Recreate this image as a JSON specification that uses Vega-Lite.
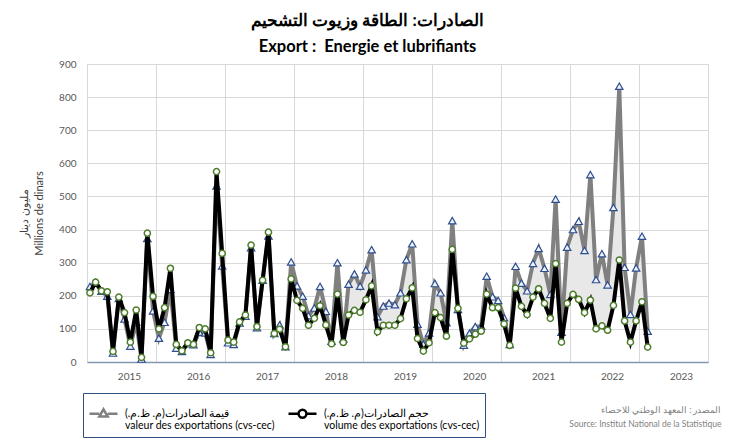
{
  "$schema": "https://vega.github.io/schema/vega-lite/v6.json",
  "width": 621,
  "height": 298,
  "autosize": {"type": "none"},
  "padding": {"left": 87, "top": 64, "right": 27, "bottom": 77},
  "background": "white",
  "config": {
    "font": "Lato",
    "view": {"stroke": "#d9d9d9", "strokeWidth": 1}
  },
  "title": {
    "text": ["الصادرات: الطاقة وزيوت التشحيم", "Export :\u00a0 Energie et lubrifiants"],
    "anchor": "middle",
    "dx": -30,
    "fontSize": 16.5,
    "lineHeight": 26,
    "offset": 4,
    "font": "Lato",
    "fontWeight": "bold",
    "color": "#000000"
  },
  "data": {
    "values": [
      {"date": "2014-06-01T00:00", "valeur": 228, "volume": 209},
      {"date": "2014-07-01T00:00", "valeur": 238, "volume": 241},
      {"date": "2014-08-01T00:00", "valeur": 214, "volume": 215},
      {"date": "2014-09-01T00:00", "valeur": 199, "volume": 212},
      {"date": "2014-10-01T00:00", "valeur": 27, "volume": 32},
      {"date": "2014-11-01T00:00", "valeur": 192, "volume": 196},
      {"date": "2014-12-01T00:00", "valeur": 130, "volume": 149},
      {"date": "2015-01-01T00:00", "valeur": 48, "volume": 60},
      {"date": "2015-02-01T00:00", "valeur": 120, "volume": 157},
      {"date": "2015-03-01T00:00", "valeur": 9, "volume": 14},
      {"date": "2015-04-01T00:00", "valeur": 373, "volume": 389},
      {"date": "2015-05-01T00:00", "valeur": 154, "volume": 198},
      {"date": "2015-06-01T00:00", "valeur": 72, "volume": 100},
      {"date": "2015-07-01T00:00", "valeur": 120, "volume": 164},
      {"date": "2015-08-01T00:00", "valeur": 219, "volume": 283},
      {"date": "2015-09-01T00:00", "valeur": 42, "volume": 53},
      {"date": "2015-10-01T00:00", "valeur": 32, "volume": 34},
      {"date": "2015-11-01T00:00", "valeur": 55, "volume": 58},
      {"date": "2015-12-01T00:00", "valeur": 52, "volume": 53},
      {"date": "2016-01-01T00:00", "valeur": 90, "volume": 104},
      {"date": "2016-02-01T00:00", "valeur": 88, "volume": 100},
      {"date": "2016-03-01T00:00", "valeur": 23, "volume": 28},
      {"date": "2016-04-01T00:00", "valeur": 532, "volume": 575},
      {"date": "2016-05-01T00:00", "valeur": 290, "volume": 328},
      {"date": "2016-06-01T00:00", "valeur": 58, "volume": 66},
      {"date": "2016-07-01T00:00", "valeur": 53, "volume": 60},
      {"date": "2016-08-01T00:00", "valeur": 118, "volume": 121},
      {"date": "2016-09-01T00:00", "valeur": 138, "volume": 142},
      {"date": "2016-10-01T00:00", "valeur": 345, "volume": 353},
      {"date": "2016-11-01T00:00", "valeur": 104, "volume": 107},
      {"date": "2016-12-01T00:00", "valeur": 247, "volume": 247},
      {"date": "2017-01-01T00:00", "valeur": 381, "volume": 392},
      {"date": "2017-02-01T00:00", "valeur": 86, "volume": 86},
      {"date": "2017-03-01T00:00", "valeur": 112, "volume": 99},
      {"date": "2017-04-01T00:00", "valeur": 46, "volume": 46},
      {"date": "2017-05-01T00:00", "valeur": 302, "volume": 251},
      {"date": "2017-06-01T00:00", "valeur": 230, "volume": 186},
      {"date": "2017-07-01T00:00", "valeur": 199, "volume": 162},
      {"date": "2017-08-01T00:00", "valeur": 140, "volume": 111},
      {"date": "2017-09-01T00:00", "valeur": 163, "volume": 132},
      {"date": "2017-10-01T00:00", "valeur": 228, "volume": 170},
      {"date": "2017-11-01T00:00", "valeur": 153, "volume": 112},
      {"date": "2017-12-01T00:00", "valeur": 63, "volume": 55},
      {"date": "2018-01-01T00:00", "valeur": 300, "volume": 205},
      {"date": "2018-02-01T00:00", "valeur": 70, "volume": 59},
      {"date": "2018-03-01T00:00", "valeur": 235, "volume": 142},
      {"date": "2018-04-01T00:00", "valeur": 266, "volume": 156},
      {"date": "2018-05-01T00:00", "valeur": 229, "volume": 150},
      {"date": "2018-06-01T00:00", "valeur": 278, "volume": 188},
      {"date": "2018-07-01T00:00", "valeur": 339, "volume": 230},
      {"date": "2018-08-01T00:00", "valeur": 137, "volume": 91},
      {"date": "2018-09-01T00:00", "valeur": 169, "volume": 111},
      {"date": "2018-10-01T00:00", "valeur": 178, "volume": 111},
      {"date": "2018-11-01T00:00", "valeur": 173, "volume": 111},
      {"date": "2018-12-01T00:00", "valeur": 209, "volume": 131},
      {"date": "2019-01-01T00:00", "valeur": 309, "volume": 191},
      {"date": "2019-02-01T00:00", "valeur": 357, "volume": 224},
      {"date": "2019-03-01T00:00", "valeur": 114, "volume": 71},
      {"date": "2019-04-01T00:00", "valeur": 54, "volume": 33},
      {"date": "2019-05-01T00:00", "valeur": 88, "volume": 58},
      {"date": "2019-06-01T00:00", "valeur": 237, "volume": 149},
      {"date": "2019-07-01T00:00", "valeur": 209, "volume": 134},
      {"date": "2019-08-01T00:00", "valeur": 119, "volume": 78},
      {"date": "2019-09-01T00:00", "valeur": 427, "volume": 340},
      {"date": "2019-10-01T00:00", "valeur": 159, "volume": 162},
      {"date": "2019-11-01T00:00", "valeur": 51, "volume": 57},
      {"date": "2019-12-01T00:00", "valeur": 87, "volume": 70},
      {"date": "2020-01-01T00:00", "valeur": 107, "volume": 84},
      {"date": "2020-02-01T00:00", "valeur": 108, "volume": 93},
      {"date": "2020-03-01T00:00", "valeur": 259, "volume": 205},
      {"date": "2020-04-01T00:00", "valeur": 197, "volume": 164},
      {"date": "2020-05-01T00:00", "valeur": 186, "volume": 164},
      {"date": "2020-06-01T00:00", "valeur": 134, "volume": 115},
      {"date": "2020-07-01T00:00", "valeur": 53, "volume": 50},
      {"date": "2020-08-01T00:00", "valeur": 289, "volume": 223},
      {"date": "2020-09-01T00:00", "valeur": 238, "volume": 168},
      {"date": "2020-10-01T00:00", "valeur": 215, "volume": 143},
      {"date": "2020-11-01T00:00", "valeur": 298, "volume": 196},
      {"date": "2020-12-01T00:00", "valeur": 343, "volume": 221},
      {"date": "2021-01-01T00:00", "valeur": 283, "volume": 177},
      {"date": "2021-02-01T00:00", "valeur": 204, "volume": 132},
      {"date": "2021-03-01T00:00", "valeur": 492, "volume": 297},
      {"date": "2021-04-01T00:00", "valeur": 90, "volume": 60},
      {"date": "2021-05-01T00:00", "valeur": 347, "volume": 177},
      {"date": "2021-06-01T00:00", "valeur": 400, "volume": 204},
      {"date": "2021-07-01T00:00", "valeur": 425, "volume": 189},
      {"date": "2021-08-01T00:00", "valeur": 337, "volume": 149},
      {"date": "2021-09-01T00:00", "valeur": 566, "volume": 187},
      {"date": "2021-10-01T00:00", "valeur": 249, "volume": 100},
      {"date": "2021-11-01T00:00", "valeur": 327, "volume": 109},
      {"date": "2021-12-01T00:00", "valeur": 233, "volume": 96},
      {"date": "2022-01-01T00:00", "valeur": 467, "volume": 171},
      {"date": "2022-02-01T00:00", "valeur": 833, "volume": 308},
      {"date": "2022-03-01T00:00", "valeur": 286, "volume": 124},
      {"date": "2022-04-01T00:00", "valeur": 144, "volume": 60},
      {"date": "2022-05-01T00:00", "valeur": 284, "volume": 124},
      {"date": "2022-06-01T00:00", "valeur": 380, "volume": 182},
      {"date": "2022-07-01T00:00", "valeur": 93, "volume": 45}
    ]
  },
  "encoding": {
    "x": {
      "field": "date",
      "type": "temporal",
      "scale": {"domain": [{"year": 2014, "month": 5, "date": 16, "hours": 12}, {"year": 2023, "month": 5, "date": 16, "hours": 12}]},
      "axis": {
        "values": [
          {"year": 2015, "month": 5, "date": 16, "hours": 12},
          {"year": 2016, "month": 5, "date": 16, "hours": 12},
          {"year": 2017, "month": 5, "date": 16, "hours": 12},
          {"year": 2018, "month": 5, "date": 16, "hours": 12},
          {"year": 2019, "month": 5, "date": 16, "hours": 12},
          {"year": 2020, "month": 5, "date": 16, "hours": 12},
          {"year": 2021, "month": 5, "date": 16, "hours": 12},
          {"year": 2022, "month": 5, "date": 16, "hours": 12},
          {"year": 2023, "month": 5, "date": 16, "hours": 12}
        ],
        "labelExpr": "'' + year(datum.value)",
        "grid": true,
        "gridColor": "#d9d9d9",
        "ticks": false,
        "domainColor": "#8497b0",
        "domainWidth": 1.5,
        "labelOffset": -27,
        "labelPadding": 9,
        "labelFontSize": 10,
        "labelColor": "#595959",
        "labelOverlap": false,
        "labelBound": false,
        "labelFlush": false,
        "title": ["المصدر : المعهد الوطني للاحصاء", "Source: Institut National de la Statistique"],
        "titleFontSize": 8.5,
        "titleFontWeight": "normal",
        "titleColor": "#7f7f7f",
        "titleAnchor": "end",
        "titleAlign": "right",
        "titleLineHeight": 14,
        "titlePadding": 24,
        "titleX": 634
      }
    },
    "y": {
      "type": "quantitative",
      "scale": {"domain": [0, 900]},
      "axis": {
        "values": [0, 100, 200, 300, 400, 500, 600, 700, 800, 900],
        "grid": true,
        "gridColor": "#d9d9d9",
        "domain": false,
        "ticks": false,
        "labelPadding": 11,
        "labelFontSize": 10,
        "labelColor": "#595959",
        "title": ["مليون دينار", "Millions de dinars"],
        "titleFontSize": 11,
        "titleFontWeight": "normal",
        "titleColor": "#404040",
        "titleLineHeight": 15,
        "titlePadding": 14
      }
    }
  },
  "layer": [
    {
      "mark": {"type": "area", "color": "#e8e8e8", "opacity": 1},
      "encoding": {"y": {"field": "volume"}, "y2": {"field": "valeur"}}
    },
    {
      "mark": {"type": "line", "color": "#808080", "strokeWidth": 4},
      "encoding": {"y": {"field": "valeur"}}
    },
    {
      "mark": {"type": "point", "shape": "triangle-up", "filled": true, "fill": "#eef2fa", "stroke": "#2f4f8f", "strokeWidth": 1.2, "size": 55, "opacity": 1},
      "encoding": {"y": {"field": "valeur"}}
    },
    {
      "mark": {"type": "line", "color": "#000000", "strokeWidth": 4},
      "encoding": {"y": {"field": "volume"}}
    },
    {
      "mark": {"type": "point", "shape": "circle", "filled": true, "fill": "#ffffff", "stroke": "#4e7d2c", "strokeWidth": 1.5, "size": 38, "opacity": 1},
      "encoding": {"y": {"field": "volume"}}
    },
    {
      "transform": [{"filter": "false"}, {"fold": ["valeur", "volume"], "as": ["serie", "val"]}],
      "mark": {"type": "point", "filled": false, "strokeWidth": 2.5, "opacity": 1},
      "encoding": {
        "y": {"field": "val"},
        "color": {
          "field": "serie",
          "type": "nominal",
          "scale": {"domain": ["valeur", "volume"], "range": ["#808080", "#000000"]},
          "legend": {
            "title": null, "orient": "none", "legendX": -4, "legendY": 329,
            "direction": "horizontal", "columns": 2, "strokeColor": "#2f4f7f",
            "fillColor": "#ffffff", "padding": 5, "symbolSize": 784, "symbolStrokeWidth": 2.5,
            "labelFontSize": 10.5, "labelColor": "#000000", "labelLimit": 300, "labelOffset": 6,
            "columnPadding": 8,
            "labelExpr": "datum.label == 'valeur' ? ['قيمة الصادرات(م. ظ.م.)', 'valeur des exportations (cvs-cec)'] : ['حجم الصادرات(م. ظ.م.)', 'volume des exportations (cvs-cec)']"
          }
        },
        "shape": {
          "field": "serie",
          "type": "nominal",
          "scale": {"domain": ["valeur", "volume"], "range": ["M-1,0H-0.3M0.3,0H1M0,-0.32L0.3,0.2L-0.3,0.2Z", "M-1,0H-0.28M0.28,0H1M-0.28,0A0.28,0.28 0 1 0 0.28,0A0.28,0.28 0 1 0 -0.28,0Z"]},
          "legend": {
            "title": null, "orient": "none", "legendX": -4, "legendY": 329,
            "direction": "horizontal", "columns": 2, "strokeColor": "#2f4f7f",
            "fillColor": "#ffffff", "padding": 5, "symbolSize": 784, "symbolStrokeWidth": 2.5,
            "labelFontSize": 10.5, "labelColor": "#000000", "labelLimit": 300, "labelOffset": 6,
            "columnPadding": 8,
            "labelExpr": "datum.label == 'valeur' ? ['قيمة الصادرات(م. ظ.م.)', 'valeur des exportations (cvs-cec)'] : ['حجم الصادرات(م. ظ.م.)', 'volume des exportations (cvs-cec)']"
          }
        }
      }
    }
  ]
}
